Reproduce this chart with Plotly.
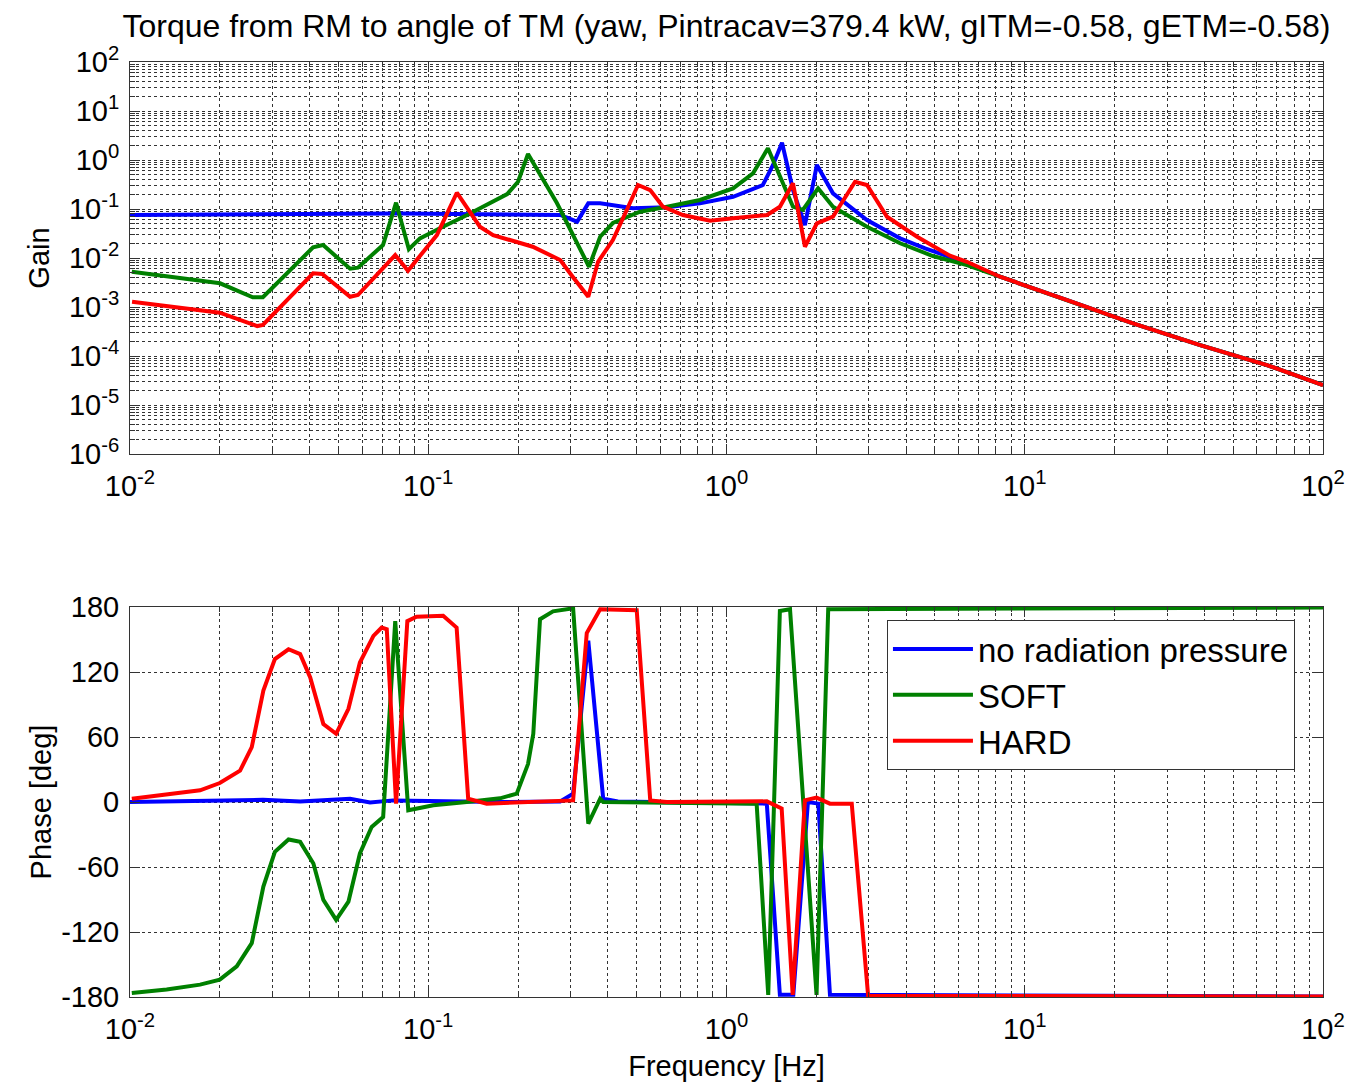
import plotly.graph_objects as go

# ---- data (frequency in Hz) ----
tail_f = [8.26, 13.87, 23.07, 38.73, 64.86, 100.0]
tail_g = [4.15e-3, 1.39e-3, 4.65e-4, 1.67e-4, 6.55e-5, 2.56e-5]

gain_f_blue = [0.01, 0.0804, 0.277, 0.3155, 0.344, 0.377, 0.486, 0.632, 0.815,
               1.052, 1.324, 1.432, 1.535, 1.671, 1.832, 2.009, 2.275, 2.958,
               3.819, 4.634, 6.397] + tail_f
gain_blue = [7.55e-2, 8.09e-2, 7.55e-2, 5.51e-2, 0.1306, 0.1306, 0.1033, 0.1084,
             0.1306, 0.178, 0.309, 0.791, 2.254, 0.244, 4.71e-2, 0.791, 0.209,
             5.97e-2, 2.52e-2, 1.58e-2, 7.91e-3] + tail_g

gain_f_soft = [0.01014, 0.02004, 0.0258, 0.0279, 0.0411, 0.0444, 0.0547, 0.0581,
               0.0705, 0.078, 0.0861, 0.0938, 0.1094, 0.135, 0.184, 0.2, 0.216,
               0.27, 0.346, 0.377, 0.416, 0.513, 0.632, 0.815, 1.052, 1.227,
               1.377, 1.545, 1.671, 1.803, 2.028, 2.275, 2.958, 3.819, 4.92,
               6.397] + tail_f
gain_soft = [5.25e-3, 3.05e-3, 1.58e-3, 1.58e-3, 1.65e-2, 1.84e-2, 6.05e-3, 6.34e-3,
             1.84e-2, 0.1346, 1.51e-2, 2.52e-2, 4.04e-2, 7.55e-2, 0.202, 0.361,
             1.324, 0.1324, 6.64e-3, 2.72e-2, 5.18e-2, 8.81e-2, 0.1114, 0.153,
             0.264, 0.536, 1.734, 0.334, 0.1114, 9.55e-2, 0.264, 0.1114, 4.36e-2,
             2.0e-2, 1.10e-2, 7.19e-3] + tail_g

gain_f_hard = [0.01016, 0.02, 0.0267, 0.0279, 0.0411, 0.0441, 0.0547, 0.0581,
               0.0775, 0.0855, 0.1069, 0.1247, 0.149, 0.165, 0.224, 0.277,
               0.305, 0.344, 0.371, 0.416, 0.463, 0.505, 0.555, 0.612, 0.714,
               0.881, 1.052, 1.368, 1.51, 1.671, 1.832, 2.009, 2.275, 2.698,
               2.958, 3.451, 4.355, 5.61, 6.397] + tail_f
gain_hard = [1.28e-3, 7.66e-4, 4.09e-4, 4.30e-4, 4.88e-3, 4.71e-3, 1.62e-3, 1.76e-3,
             1.15e-2, 5.51e-3, 2.94e-2, 0.215, 4.36e-2, 2.94e-2, 1.70e-2, 9.10e-3,
             4.15e-3, 1.62e-3, 8.39e-3, 2.33e-2, 9.55e-2, 0.309, 0.244, 0.1114,
             7.55e-2, 5.77e-2, 6.46e-2, 7.55e-2, 0.1114, 0.334, 1.70e-2, 5.11e-2,
             6.97e-2, 0.361, 0.309, 6.97e-2, 2.72e-2, 1.12e-2, 8.39e-3] + tail_g

phase_f_blue = [0.01, 0.0279, 0.0372, 0.0547, 0.0638, 0.0762, 0.174, 0.277, 0.306,
                0.344, 0.386, 0.4325, 1.365, 1.51, 1.675, 1.875, 2.032, 2.223, 100.0]
phase_blue = [0, 2, 0.5, 3, -0.5, 1.5, 0, 0.5, 7.7, 149, 3, 0.5, -1.5, -178, -178,
              0, -1.5, -178, -179.5]

phase_f_soft = [0.01014, 0.01327, 0.01718, 0.02, 0.0228, 0.0256, 0.028, 0.0306,
                0.034, 0.0372, 0.0412, 0.0445, 0.0491, 0.054, 0.059, 0.0646,
                0.0706, 0.0775, 0.0857, 0.104, 0.1346, 0.174, 0.198, 0.216,
                0.225, 0.237, 0.262, 0.306, 0.344, 0.377, 0.386, 1.262, 1.38,
                1.51, 1.633, 2.004, 2.193, 100.0]
phase_soft = [-176.3, -173, -168.6, -164, -151.8, -130.3, -78, -46, -34.6, -36.8,
              -56.7, -90.4, -108.8, -92, -47.5, -23, -13.8, 167, -7.6, -3, 0, 3.4,
              7.7, 35, 63, 168.7, 176, 178.8, -20, 3, 0, -1.5, -178, 176.4, 178,
              -178, 178, 179.5]

phase_f_hard = [0.01014, 0.01327, 0.01718, 0.02, 0.02339, 0.0256, 0.028, 0.0306,
                0.034, 0.0372, 0.0402, 0.0445, 0.0491, 0.054, 0.059, 0.0655,
                0.0698, 0.0726, 0.078, 0.0851, 0.0914, 0.1122, 0.1245, 0.1361,
                0.157, 0.306, 0.34, 0.377, 0.5, 0.555, 0.631, 1.365, 1.531,
                1.667, 1.832, 2.004, 2.223, 2.63, 2.985, 100.0]
phase_hard = [3, 7, 10.8, 17.5, 29, 50.6, 102.8, 132, 141, 136.5, 115, 72, 63, 86,
              128.8, 153.4, 161, 159.5, -1.5, 167, 171, 172, 161, 3, -1.5, 1.5,
              156, 178, 177, 1.5, 0, 0.6, -6, -178, 1.5, 4, -1.5, -1.5, -179,
              -179.5]

names = ["no radiation pressure", "SOFT", "HARD"]
colors = ["#0000ff", "#008000", "#ff0000"]

freq_exps = [-2, -1, 0, 1, 2]
gain_exps = [-6, -5, -4, -3, -2, -1, 0, 1, 2]
phase_ticks = [-180, -120, -60, 0, 60, 120, 180]

FONT = "Liberation Sans, Arial, sans-serif"

fig = go.Figure()
gain_sets = [(gain_f_blue, gain_blue), (gain_f_soft, gain_soft), (gain_f_hard, gain_hard)]
phase_sets = [(phase_f_blue, phase_blue), (phase_f_soft, phase_soft), (phase_f_hard, phase_hard)]

for (f, g), name, c in zip(gain_sets, names, colors):
    fig.add_trace(go.Scatter(x=f, y=g, mode="lines", name=name, showlegend=False,
                             line=dict(color=c, width=4), xaxis="x", yaxis="y"))
for (f, p), name, c in zip(phase_sets, names, colors):
    fig.add_trace(go.Scatter(x=f, y=p, mode="lines", name=name,
                             line=dict(color=c, width=4), xaxis="x2", yaxis="y2"))


def pow_labels(exps):
    return [10.0 ** e for e in exps], ["10<sup>%d</sup>" % e for e in exps]


def minor_vals(exps):
    return [k * 10.0 ** e for e in exps[:-1] for k in range(2, 10)]


fx_vals, fx_text = pow_labels(freq_exps)
gy_vals, gy_text = pow_labels(gain_exps)

grid = dict(showgrid=True, gridcolor="#333333", gridwidth=1, griddash="dot")
frame = dict(showline=True, linecolor="#333333", linewidth=1, mirror="allticks",
             ticks="inside", ticklen=10, tickcolor="#333333", automargin=False,
             tickfont=dict(family=FONT, size=29, color="black"), zeroline=False)


def minor_for(exps):
    return dict(tickmode="array", tickvals=minor_vals(exps), ticks="inside",
                ticklen=5, tickcolor="#333333", showgrid=True,
                gridcolor="#333333", gridwidth=1, griddash="dot")


xlog = dict(type="log", range=[-2, 2], tickmode="array", tickvals=fx_vals,
            ticktext=fx_text, minor=minor_for(freq_exps), ticklabelstandoff=6,
            **grid, **frame)

fig.update_layout(
    width=1337, height=1074,
    paper_bgcolor="white", plot_bgcolor="white",
    margin=dict(l=122, r=22, t=54, b=85),
    font=dict(family=FONT, color="black"),
    title=dict(text="Torque from RM to angle of TM (yaw, Pintracav=379.4 kW, gITM=-0.58, gETM=-0.58)",
               font=dict(family=FONT, size=32, color="black"),
               x=0.5, xref="paper", xanchor="center", y=0.983, yref="container",
               yanchor="middle"),
    xaxis=dict(domain=[0, 1], anchor="y", **xlog),
    yaxis=dict(domain=[0.5807, 1.0], anchor="x", type="log", range=[-6, 2],
               tickmode="array", tickvals=gy_vals, ticktext=gy_text,
               minor=minor_for(gain_exps), ticklabelstandoff=4,
               title=dict(text="Gain", font=dict(family=FONT, size=29), standoff=10),
               **grid, **frame),
    xaxis2=dict(domain=[0, 1], anchor="y2",
                title=dict(text="Frequency [Hz]", font=dict(family=FONT, size=29), standoff=13),
                **xlog),
    yaxis2=dict(domain=[0, 0.4171], anchor="x2", range=[-180, 180], tickmode="array",
                tickvals=phase_ticks, ticktext=[str(v) for v in phase_ticks],
                ticklabelstandoff=4,
                title=dict(text="Phase [deg]", font=dict(family=FONT, size=29), standoff=0),
                **grid, **frame),
    legend=dict(x=0.6345, y=0.4032, xanchor="left", yanchor="top",
                bgcolor="white", bordercolor="#333333", borderwidth=1,
                font=dict(family=FONT, size=33, color="black"),
                itemwidth=80, tracegroupgap=0),
)

fig.write_html("out.html")
